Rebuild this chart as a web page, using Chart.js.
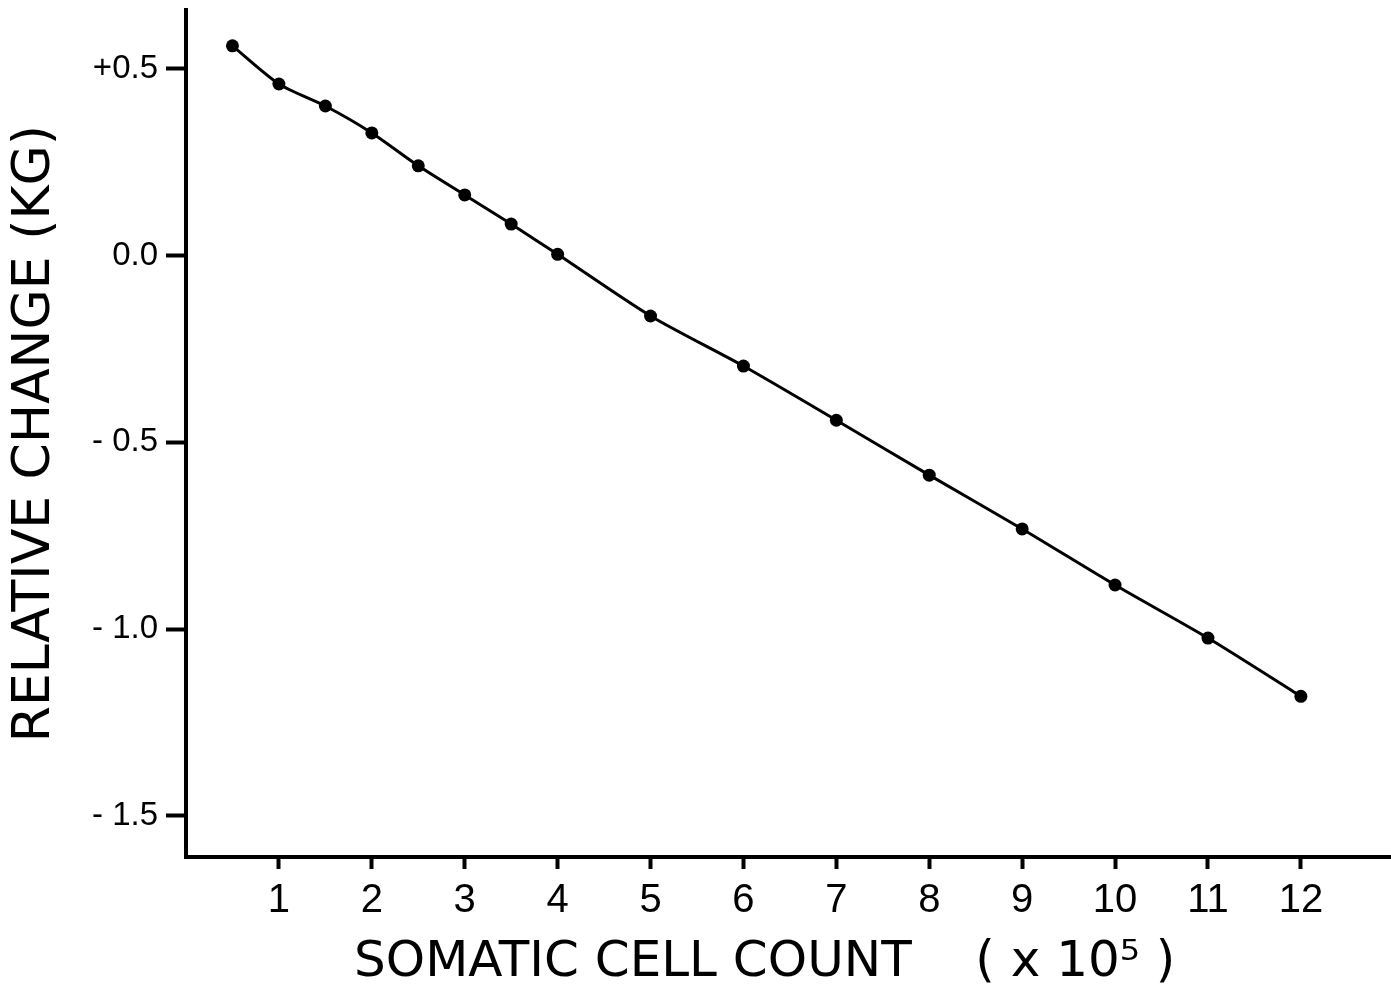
<!DOCTYPE html>
<html>
<head>
<meta charset="utf-8">
<script src="https://cdn.jsdelivr.net/npm/chart.js@4"></script>
<style>
html,body{margin:0;padding:0;background:#fff;}
#wrap{width:1391px;height:986px;}
</style>
</head>
<body>
<div id="wrap"><canvas id="c" width="1391" height="986"></canvas></div>
<script>
const cellCount = [0.5, 1, 1.5, 2, 2.5, 3, 3.5, 4, 5, 6, 7, 8, 9, 10, 11, 12];
const relChange = [0.561, 0.459, 0.400, 0.328, 0.240, 0.162, 0.084, 0.003, -0.162, -0.296, -0.441, -0.588, -0.732, -0.882, -1.024, -1.180];
const xTicks = [1, 2, 3, 4, 5, 6, 7, 8, 9, 10, 11, 12];
const yTicks = [0.5, 0, -0.5, -1.0, -1.5];
const yTickLabels = ['+0.5', '0.0', '- 0.5', '- 1.0', '- 1.5'];
const xTitle = 'SOMATIC CELL COUNT\u00a0\u00a0\u00a0\u00a0( x 10\u2075 )\u00a0\u00a0\u00a0';
const yTitle = 'RELATIVE CHANGE (KG)';

const FONT = "'Liberation Sans', Arial, sans-serif";
const TFONT = "'DejaVu Sans', sans-serif";

new Chart(document.getElementById('c'), {
  type: 'line',
  data: {
    datasets: [{
      data: cellCount.map((x, i) => ({x: x, y: relChange[i]})),
      borderColor: '#000',
      backgroundColor: '#000',
      borderWidth: 3,
      pointRadius: 6.5,
      pointBackgroundColor: '#000',
      pointBorderWidth: 0,
      tension: 0.25,
      fill: false
    }]
  },
  options: {
    responsive: false,
    animation: false,
    events: [],
    layout: {autoPadding: false, padding: {top: 10, right: 0, left: 0, bottom: 0}},
    plugins: {legend: {display: false}, tooltip: {enabled: false}},
    scales: {
      x: {
        type: 'linear',
        min: 0,
        max: 12.97,
        afterFit: s => { s.height = 129; s.paddingLeft = 0; s.paddingRight = 0; },
        afterBuildTicks: s => { s.ticks = xTicks.map(v => ({value: v})); },
        grid: {display: true, drawOnChartArea: false, drawTicks: true, tickLength: 12, tickWidth: 4, tickColor: '#000'},
        border: {display: true, color: '#000', width: 4},
        ticks: {color: '#000', font: {family: FONT, size: 40}, padding: 8, maxRotation: 0, autoSkip: false,
          callback: v => String(v)},
        title: {display: true, text: xTitle, color: '#000', font: {family: TFONT, size: 50, lineHeight: 1}, padding: {top: 0, bottom: -2}}
      },
      y: {
        type: 'linear',
        min: -1.610,
        max: 0.657,
        afterFit: s => { s.width = 186; s.paddingTop = 0; s.paddingBottom = 0; },
        afterBuildTicks: s => { s.ticks = yTicks.map(v => ({value: v})); },
        grid: {display: true, drawOnChartArea: false, drawTicks: true, tickLength: 20, tickWidth: 4, tickColor: '#000'},
        border: {display: true, color: '#000', width: 4},
        ticks: {color: '#000', font: {family: FONT, size: 33}, padding: 8, autoSkip: false,
          callback: (v) => yTickLabels[yTicks.indexOf(v)] ?? ''},
        title: {display: true, text: yTitle, color: '#000', font: {family: TFONT, size: 52}, padding: {top: 4, bottom: 0}}
      }
    }
  }
});
</script>
</body>
</html>
